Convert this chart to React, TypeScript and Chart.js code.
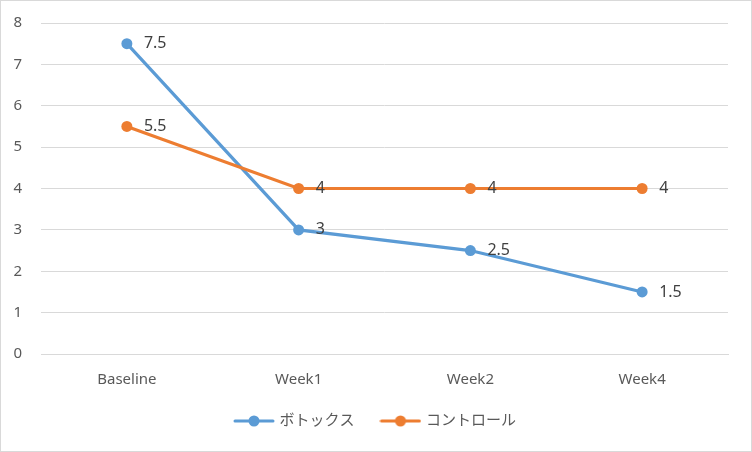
import React, { useEffect, useRef } from "react";
import { Chart, registerables } from "chart.js";

Chart.register(...registerables);

const categories = ["Baseline", "Week1", "Week2", "Week4"];
const botoxValues = [7.5, 3, 2.5, 1.5];
const controlValues = [5.5, 4, 4, 4];
const seriesNames = ["ボトックス", "コントロール"];
const seriesColors = ["#5B9BD5", "#ED7D31"];

const FONT = '"Noto Sans", "Noto Sans CJK JP", sans-serif';

function makeLegendIcon(color: string): HTMLCanvasElement {
  const c = document.createElement("canvas");
  c.width = 42;
  c.height = 12;
  const ctx = c.getContext("2d")!;
  ctx.strokeStyle = color;
  ctx.lineWidth = 3;
  ctx.lineCap = "round";
  ctx.beginPath();
  ctx.moveTo(2, 6);
  ctx.lineTo(40, 6);
  ctx.stroke();
  ctx.fillStyle = color;
  ctx.beginPath();
  ctx.arc(21, 6, 5.5, 0, Math.PI * 2);
  ctx.fill();
  return c;
}

const dataLabelPlugin = {
  id: "dataLabels",
  afterDatasetsDraw(chart: any) {
    const ctx = chart.ctx;
    ctx.save();
    ctx.font = `16px ${FONT}`;
    ctx.fillStyle = "#404040";
    ctx.textAlign = "left";
    ctx.textBaseline = "middle";
    chart.data.datasets.forEach((ds: any, i: number) => {
      const meta = chart.getDatasetMeta(i);
      meta.data.forEach((pt: any, j: number) => {
        ctx.fillText(String(ds.data[j]), pt.x + 17, pt.y);
      });
    });
    ctx.restore();
  },
};

export default function App() {
  const ref = useRef<HTMLCanvasElement | null>(null);

  useEffect(() => {
    document.body.style.margin = "0";
    const icons = seriesColors.map(makeLegendIcon);
    const chart = new Chart(ref.current!, {
      type: "line",
      data: {
        labels: categories,
        datasets: [
          {
            label: seriesNames[0],
            data: botoxValues,
            borderColor: seriesColors[0],
            backgroundColor: seriesColors[0],
            borderWidth: 3.2,
            pointRadius: 5.5,
            pointBorderWidth: 0,
            pointBackgroundColor: seriesColors[0],
            tension: 0,
            order: 1,
          },
          {
            label: seriesNames[1],
            data: controlValues,
            borderColor: seriesColors[1],
            backgroundColor: seriesColors[1],
            borderWidth: 3.2,
            pointRadius: 5.5,
            pointBorderWidth: 0,
            pointBackgroundColor: seriesColors[1],
            tension: 0,
            order: 0,
          },
        ],
      },
      options: {
        animation: false,
        responsive: false,
        maintainAspectRatio: false,
        layout: { padding: { top: 22, right: 0, left: 0, bottom: 12.5 } },
        plugins: {
          tooltip: { enabled: false },
          legend: {
            position: "bottom",
            labels: {
              usePointStyle: true,
              pointStyleWidth: 36,
              padding: 28,
              color: "#595959",
              font: { family: FONT, size: 15 },
              sort: (a: any, b: any) => a.datasetIndex - b.datasetIndex,
              generateLabels: (chart: any) => {
                const items = Chart.defaults.plugins.legend.labels.generateLabels(chart);
                items.forEach((it: any) => {
                  it.pointStyle = icons[it.datasetIndex];
                });
                return items;
              },
            },
          },
        },
        scales: {
          x: {
            offset: true,
            grid: { display: false, drawTicks: false },
            border: { display: true, color: "#d9d9d9" },
            ticks: { color: "#595959", font: { family: FONT, size: 15 }, padding: 17 },
            afterFit: (s: any) => {
              s.height = 31.5;
            },
          },
          y: {
            min: 0,
            max: 8,
            grid: {
              color: "#d9d9d9",
              drawTicks: true,
              tickLength: 15,
              tickColor: "rgba(0,0,0,0)",
            },
            border: { display: false },
            ticks: {
              stepSize: 1,
              color: "#595959",
              font: { family: FONT, size: 15 },
              padding: 4,
            },
            afterFit: (s: any) => {
              s.width = 40;
            },
          },
          yRight: {
            position: "right",
            grid: { display: false, drawTicks: false },
            border: { display: false },
            ticks: { display: false },
            afterFit: (s: any) => {
              s.width = 23;
            },
          },
        },
      },
      plugins: [dataLabelPlugin],
    });
    return () => chart.destroy();
  }, []);

  return (
    <div
      style={{
        position: "absolute",
        left: 0,
        top: 0,
        width: 752,
        height: 452,
        border: "1px solid #d9d9d9",
        boxSizing: "border-box",
        background: "#fff",
      }}
    >
      <canvas ref={ref} width={750} height={450} style={{ display: "block" }} />
    </div>
  );
}
